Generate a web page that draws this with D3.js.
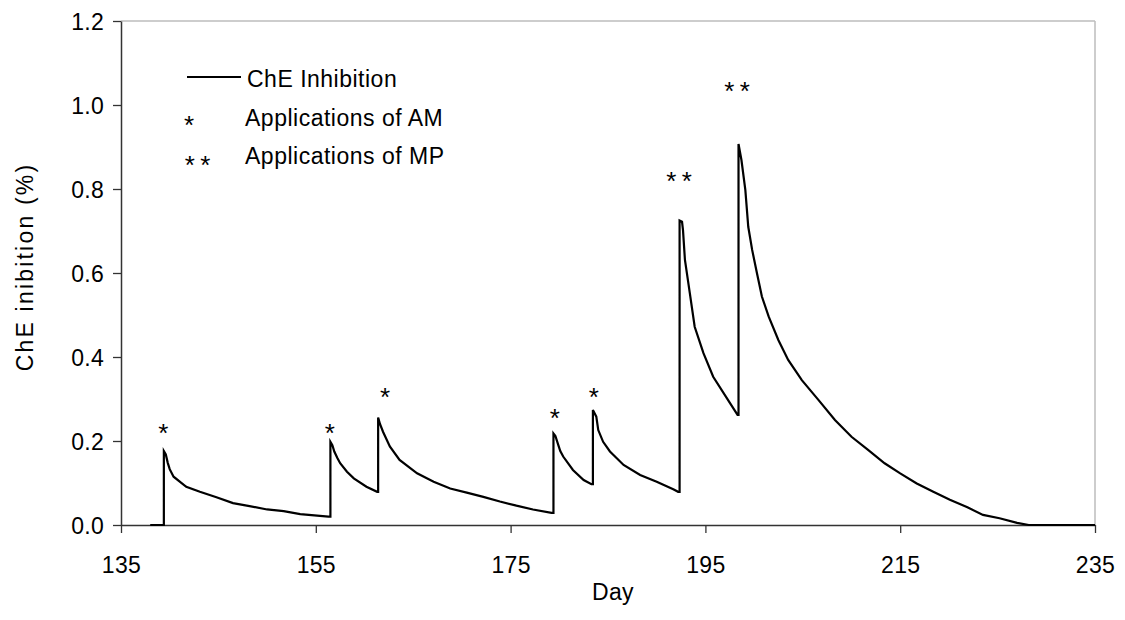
<!DOCTYPE html>
<html>
<head>
<meta charset="utf-8">
<script src="https://cdn.jsdelivr.net/npm/d3@7"></script>
<style>
  html, body { margin: 0; padding: 0; background: #fff; }
  svg { display: block; }
  text { font-family: "Liberation Sans", Arial, sans-serif; fill: #000; }
</style>
</head>
<body>
<svg id="chart" width="1125" height="620"></svg>
<script>
// ---- data ----
const days = [
  138.0, 139.4, 139.4, 139.6, 139.8, 140.0, 140.4, 141.7, 143.1, 144.8, 146.5, 148.2, 150.0, 151.7, 153.4, 156.3,
  156.5, 156.5, 156.7, 156.9, 157.2, 157.5, 158.2, 158.9, 160.2, 161.3,
  161.4, 161.4, 161.6, 161.9, 162.6, 163.6, 165.4, 167.1, 168.8, 170.5, 172.2, 173.9, 175.6, 177.3, 179.2,
  179.4, 179.4, 179.6, 179.9, 180.1, 180.4, 181.4, 182.5, 183.3,
  183.45, 183.45, 183.8, 184.0, 184.5, 185.2, 186.6, 188.3, 190.0, 191.7, 192.2,
  192.35, 192.35, 192.6, 192.7, 192.9, 193.4, 193.9, 194.8, 195.8, 197.2, 198.3,
  198.4, 198.4, 198.7, 199.1, 199.4, 199.8, 200.3, 200.8, 201.5, 202.5, 203.5, 204.9, 206.6, 208.3,
  210.0, 211.7, 213.4, 215.0, 216.7, 218.4, 220.1, 221.9, 223.5, 225.2, 227.0, 228.2, 235.0
];
const inhibition = [
  0.000, 0.000, 0.176, 0.168, 0.148, 0.133, 0.115, 0.091, 0.079, 0.066, 0.052, 0.045, 0.037, 0.033, 0.026, 0.020,
  0.020, 0.198, 0.190, 0.175, 0.160, 0.147, 0.127, 0.111, 0.091, 0.079,
  0.079, 0.256, 0.240, 0.222, 0.187, 0.155, 0.123, 0.103, 0.087, 0.077, 0.067, 0.056, 0.046, 0.037, 0.029,
  0.029, 0.218, 0.212, 0.190, 0.176, 0.163, 0.131, 0.107, 0.097,
  0.097, 0.274, 0.258, 0.226, 0.198, 0.175, 0.143, 0.119, 0.103, 0.085, 0.079,
  0.079, 0.725, 0.722, 0.702, 0.631, 0.552, 0.472, 0.409, 0.353, 0.302, 0.262,
  0.262, 0.907, 0.869, 0.798, 0.710, 0.655, 0.599, 0.544, 0.496, 0.440, 0.393, 0.345, 0.298, 0.250,
  0.210, 0.179, 0.147, 0.123, 0.099, 0.079, 0.060, 0.042, 0.024, 0.016, 0.005, 0.000, 0.000
];

// application markers: day and label height (value units)
const amDays   = [139.35, 156.45, 162.1, 179.55, 183.55];
const amLabelY = [0.230, 0.230, 0.317, 0.267, 0.317];
const mpDays   = [192.3, 198.25];
const mpLabelY = [0.831, 1.045];

const xTicks = [135, 155, 175, 195, 215, 235];
const yTicks = [0, 0.2, 0.4, 0.6, 0.8, 1.0, 1.2];

const legendLabels = ["ChE Inhibition", "Applications of AM", "Applications of MP"];
const xTitle = "Day";
const yTitle = "ChE inibition (%)";

// ---- layout ----
const svg = d3.select("#chart");
const x = d3.scaleLinear().domain([135, 235]).range([121, 1095]);
const y = d3.scaleLinear().domain([0, 1.2]).range([525, 21]);

// frame (top/right light grey)
svg.append("line").attr("x1", x(135)).attr("x2", x(235)).attr("y1", y(1.2)).attr("y2", y(1.2))
  .attr("stroke", "#bdbdbd").attr("stroke-width", 1.5);
svg.append("line").attr("x1", x(235)).attr("x2", x(235)).attr("y1", y(1.2)).attr("y2", y(0))
  .attr("stroke", "#bdbdbd").attr("stroke-width", 1.5);

// axes
const xAxis = d3.axisBottom(x).tickValues(xTicks).tickSize(8).tickSizeOuter(0).tickFormat(d3.format("d"));
const yAxis = d3.axisLeft(y).tickValues(yTicks).tickSize(8).tickSizeOuter(0).tickFormat(d3.format(".1f"));

const gx = svg.append("g").attr("transform", `translate(0,${y(0)})`).call(xAxis);
const gy = svg.append("g").attr("transform", `translate(${x(135)},0)`).call(yAxis);

[gx, gy].forEach(g => {
  g.select(".domain").attr("stroke", "#333").attr("stroke-width", 1.5);
  g.selectAll(".tick line").attr("stroke", "#333").attr("stroke-width", 1.3);
  g.selectAll(".tick text")
    .attr("font-family", "'Liberation Sans', Arial, sans-serif")
    .attr("font-size", 23).attr("letter-spacing", "0.3px").attr("fill", "#000");
});
gx.selectAll(".tick text").attr("dy", 0).attr("y", 48);
gy.selectAll(".tick text").attr("x", -17).attr("dy", "0.36em");

// line
const pts = days.map((d, i) => [d, inhibition[i]]);
const line = d3.line().x(d => x(d[0])).y(d => y(d[1])).curve(d3.curveLinear);
svg.append("path").datum(pts).attr("d", line)
  .attr("fill", "none").attr("stroke", "#000").attr("stroke-width", 2.2).attr("stroke-linejoin", "miter");

// star helper: draws n asterisks centred at (cx, cy)
function stars(cx, cy, n) {
  const gap = 15.5;
  for (let k = 0; k < n; k++) {
    const off = (k - (n - 1) / 2) * gap;
    svg.append("text").attr("x", cx + off).attr("y", cy + 14)
      .attr("text-anchor", "middle")
      .attr("font-family", "'DejaVu Sans', sans-serif")
      .attr("font-size", 26).text("*");
  }
}
amDays.forEach((d, i) => stars(x(d), y(amLabelY[i]), 1));
mpDays.forEach((d, i) => stars(x(d), y(mpLabelY[i]), 2));

// legend
svg.append("line").attr("x1", 187).attr("x2", 241).attr("y1", 77).attr("y2", 77)
  .attr("stroke", "#000").attr("stroke-width", 2);
stars(189, 120, 1);
stars(197.5, 160, 2);
const legPos = [[247, 87], [245, 126], [245, 164]];
legendLabels.forEach((t, i) => {
  svg.append("text").attr("x", legPos[i][0]).attr("y", legPos[i][1])
    .attr("font-size", 23).attr("letter-spacing", "0.5px").text(t);
});

// axis titles
svg.append("text").attr("x", 613).attr("y", 600).attr("text-anchor", "middle")
  .attr("font-size", 23).attr("letter-spacing", "0.3px").text(xTitle);
svg.append("text").attr("transform", "translate(33,267) rotate(-90)")
  .attr("text-anchor", "middle").attr("font-size", 23).attr("letter-spacing", "2.2px").text(yTitle);
</script>
</body>
</html>
